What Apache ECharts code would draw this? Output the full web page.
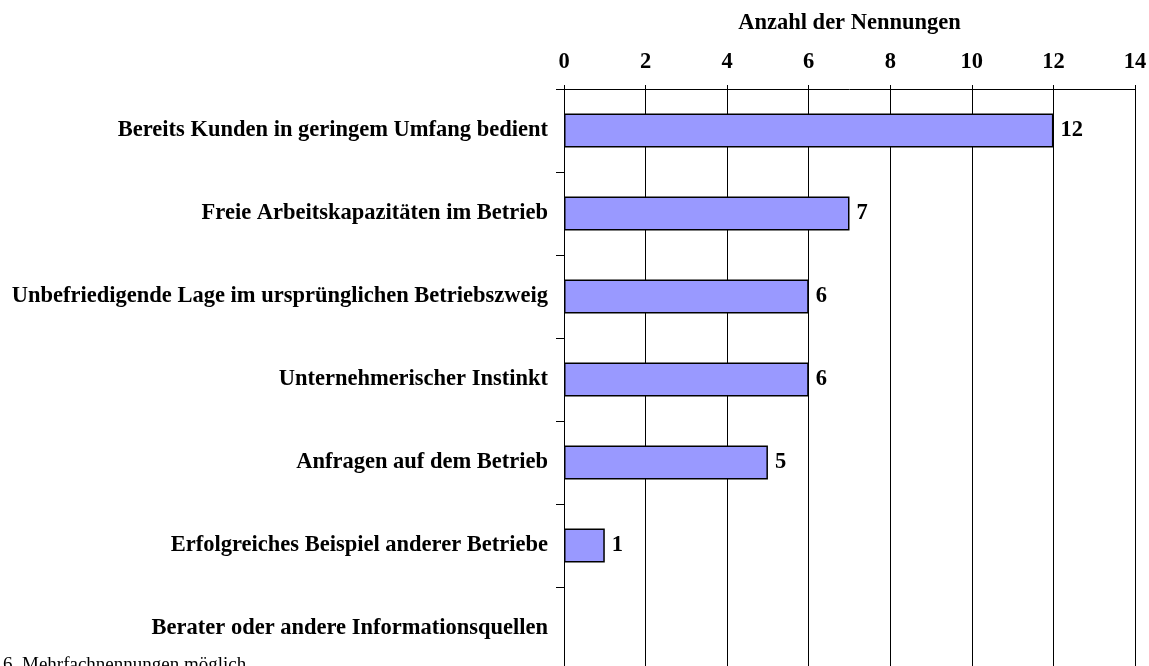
<!DOCTYPE html>
<html>
<head>
<meta charset="utf-8">
<script src="https://cdn.jsdelivr.net/npm/echarts@6/dist/echarts.min.js"></script>
<style>
  html, body { margin: 0; padding: 0; background: #fff; }
  #chart { width: 1149px; height: 666px; }
</style>
</head>
<body>
<div id="chart"></div>
<script>
// categories (top to bottom)
const categories = [
  'Bereits Kunden in geringem Umfang bedient',
  'Freie Arbeitskapazitäten im Betrieb',
  'Unbefriedigende Lage im ursprünglichen Betriebszweig',
  'Unternehmerischer Instinkt',
  'Anfragen auf dem Betrieb',
  'Erfolgreiches Beispiel anderer Betriebe',
  'Berater oder andere Informationsquellen'
];
const counts = [12, 7, 6, 6, 5, 1, 0];
const axisTitle = 'Anzahl der Nennungen';
const footnote = '6, Mehrfachnennungen möglich';

const serif = '"Liberation Serif", "Times New Roman", serif';

const chart = echarts.init(document.getElementById('chart'));
chart.setOption({
  animation: false,
  textStyle: { fontFamily: serif },
  grid: { left: 564, right: 14, top: 89, bottom: -4, containLabel: false, outerBoundsMode: 'none' },
  xAxis: {
    type: 'value',
    position: 'top',
    min: 0,
    max: 14,
    interval: 2,
    name: axisTitle,
    nameLocation: 'middle',
    nameGap: 54,
    nameMoveOverlap: false,
    nameTextStyle: { fontFamily: serif, fontWeight: 'bold', fontSize: 22.5, color: '#000' },
    axisLine: { show: true, lineStyle: { color: '#000', width: 1 } },
    axisTick: { show: true, inside: false, length: 4, lineStyle: { color: '#000' } },
    axisLabel: { margin: 15, fontFamily: serif, fontWeight: 'bold', fontSize: 22.5, color: '#000' },
    splitLine: { show: true, lineStyle: { color: '#000', width: 1 } }
  },
  yAxis: {
    type: 'category',
    inverse: true,
    data: categories,
    axisLine: { show: true, lineStyle: { color: '#000', width: 1 } },
    axisTick: { show: true, length: 8, lineStyle: { color: '#000' } },
    axisLabel: { margin: 16, fontFamily: serif, fontWeight: 'bold', fontSize: 22.5, color: '#000' }
  },
  series: [{
    type: 'bar',
    data: counts.map(v => ({ value: v, itemStyle: v === 0 ? { borderWidth: 0, opacity: 0 } : {} })),
    barWidth: '41%',
    itemStyle: { color: '#9999ff', borderColor: '#000', borderWidth: 1.5 },
    label: {
      show: true,
      position: 'right',
      distance: 7,
      fontFamily: serif,
      fontWeight: 'bold',
      fontSize: 22.5,
      color: '#000',
      formatter: p => (p.value > 0 ? p.value : '')
    }
  }],
  graphic: [{
    type: 'text',
    left: 3,
    top: 656,
    style: { text: footnote, font: '19px ' + serif, fill: '#000' }
  }]
});
</script>
</body>
</html>
